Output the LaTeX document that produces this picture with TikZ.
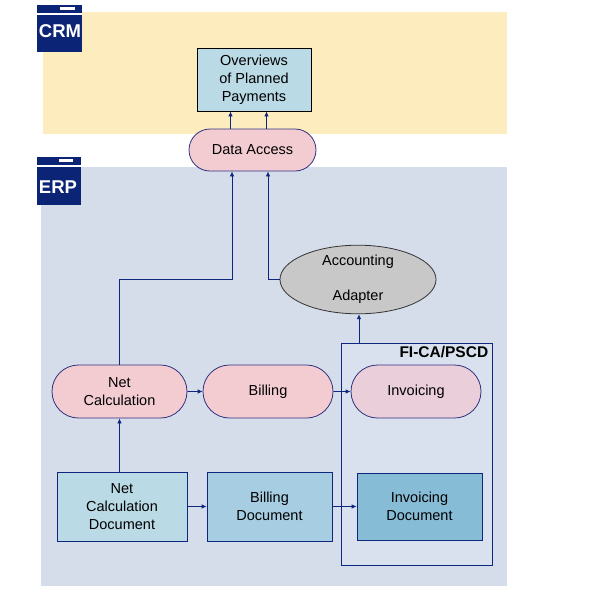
\documentclass[tikz,border=0pt]{standalone}
\usepackage{fontspec}
\setmainfont{Liberation Sans}
\usetikzlibrary{arrows.meta,shapes.geometric,shapes.misc}
\definecolor{navy}{RGB}{14,38,128}
\definecolor{tabblue}{RGB}{12,36,118}
\definecolor{pillline}{RGB}{48,50,128}
\definecolor{crmbg}{RGB}{252,236,190}
\definecolor{erpbg}{RGB}{212,221,233}
\definecolor{fibg}{RGB}{216,225,237}
\definecolor{pinkfill}{RGB}{243,204,210}
\definecolor{lilacfill}{RGB}{234,206,218}
\definecolor{docA}{RGB}{186,218,230}
\definecolor{docB}{RGB}{166,205,225}
\definecolor{docC}{RGB}{134,188,214}
\definecolor{greyfill}{RGB}{200,200,200}
\begin{document}
\begin{tikzpicture}[x=1pt,y=-1pt,
        >={Latex[length=5pt,width=4.5pt]},
        pill/.style={rounded rectangle,draw=pillline,line width=0.8pt,fill=pinkfill,
            minimum width=130pt,minimum height=53pt,inner sep=0pt,align=center},
        doc/.style={rectangle,draw=navy,line width=0.8pt,minimum width=125pt,
            minimum height=69pt,inner sep=0pt,align=center},
        tabtext/.style={text=white,inner sep=0pt,font=\bfseries\fontsize{18.5}{20}\selectfont}]
    \fontsize{14.5}{18}\selectfont
    \useasboundingbox (0,0) rectangle (595,595);

    % areas and tabs
    \fill[crmbg] (43,12) rectangle (507,134);
    \fill[erpbg] (41,167) rectangle (507,586);
    \fill[tabblue] (37,5) rectangle (82,52);
    \fill[white] (37,12.5) rectangle (82,14.5);
    \fill[white] (60,7) rectangle (75,10);
    \node[tabtext] (CRM) at (60,31) {CRM};
    \fill[tabblue] (37,157) rectangle (81,205);
    \fill[white] (37,164.5) rectangle (81,166.5);
    \fill[white] (59,159) rectangle (73,162);
    \node[tabtext] (ERP) at (58,187) {ERP};

    \node[draw=navy,line width=0.8pt,fill=fibg,minimum width=151pt,minimum height=222pt,inner sep=0pt] (FI) at (416.5,454) {};
    \node[anchor=north east,inner sep=0pt,font=\bfseries\fontsize{15.5}{18}\selectfont] (FIL) at ([xshift=-4pt,yshift=-3pt]FI.north east) {FI-CA/PSCD};

    \node[draw=black,line width=0.8pt,fill=docA,minimum width=114pt,minimum height=63pt,inner sep=0pt,align=center] (OV) at (254,79.5) {Overviews\\of Planned\\Payments};
    \node[pill,minimum width=127pt,minimum height=42pt] (DA) at (252.5,150) {Data Access};
    \node[ellipse,draw=black!80,line width=0.8pt,fill=greyfill,minimum width=156pt,minimum height=67pt,inner sep=0pt,align=center] (AA) at (358,279.5) {Accounting\\[17pt]Adapter};

    \node[pill,minimum width=135pt] (NC) at (119.5,391.5) {Net\\Calculation};
    \node[pill] (BI) at (268,391.5) {Billing};
    \node[pill,fill=lilacfill] (IN) at (416,391.5) {Invoicing};

    \node[doc,minimum width=130pt,fill=docA] (NCD) at (122,506.5) {Net\\Calculation\\Document};
    \node[doc,fill=docB] (BD) at (269.5,506.5) {Billing\\Document};
    \node[doc,fill=docC,minimum height=67pt] (ID) at (419.5,506.5) {Invoicing\\Document};

    \begin{scope}[draw=navy,line width=0.8pt]
        \draw [->] ([xshift=-22pt]DA.north) -- ([xshift=-22pt]DA.north |- OV.south);
        \draw [->] ([xshift=14pt]DA.north) -- ([xshift=14pt]DA.north |- OV.south);
        \draw [->] (NC.north) -- (NC.north |- AA.west) -| ([xshift=-20.5pt]DA.south);
        \draw [->] (AA.west) -| ([xshift=15.5pt]DA.south);
        \draw [->] ([xshift=1pt]AA.south |- FI.north) -- ([xshift=1pt]AA.south);

        \draw [->] (NC) -- (BI);
        \draw [->] (BI) -- (IN);
        \draw [->] (NC.south |- NCD.north) -- (NC.south);
        \draw [->] (NCD) -- (BD);
        \draw [->] (BD) -- (ID);
    \end{scope}
\end{tikzpicture}
\end{document}
